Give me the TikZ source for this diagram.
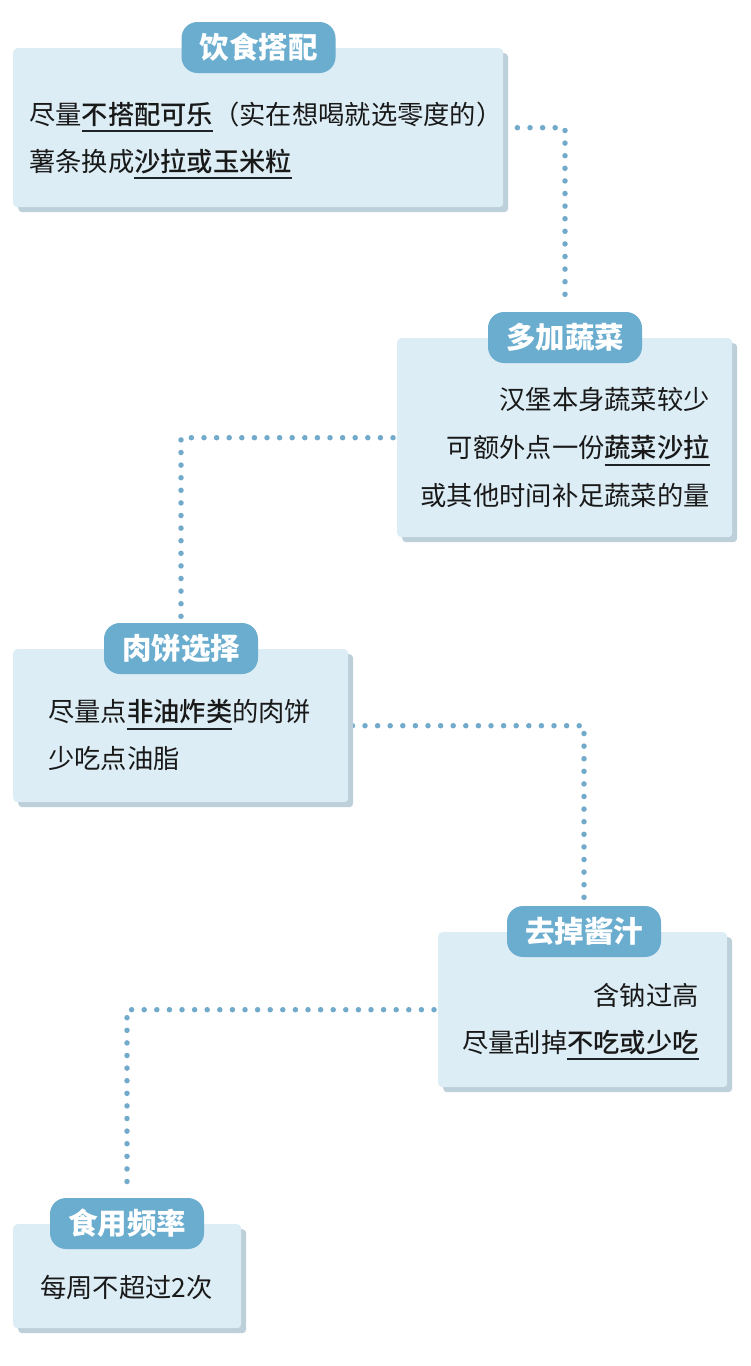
\documentclass[tikz,border=0pt]{standalone}
\usepackage{fontspec}
\setmainfont{Noto Sans CJK SC}
\newfontfamily\keyfont{Noto Sans CJK SC Medium}
\usetikzlibrary{shadows,backgrounds}

\definecolor{cardfill}{HTML}{DCEDF5}
\definecolor{cardshadow}{HTML}{BDD0DA}
\definecolor{tagfill}{HTML}{6AADCF}
\definecolor{dotc}{HTML}{72AACB}
\definecolor{ulc}{HTML}{1E2428}

\newcommand\hilite[1]{\setbox0=\hbox{\keyfont#1}\rlap{\color{ulc}\rule[-8pt]{\wd0}{2pt}}\box0}

\begin{document}
\begin{tikzpicture}[x=1pt,y=-1pt,
                card/.style = {fill=cardfill, rounded corners=4pt, anchor=north west, inner sep=0pt,
                               general shadow={fill=cardshadow, shadow xshift=5pt, shadow yshift=-5pt}},
                tag/.style = {fill=tagfill, rounded corners=16pt, minimum width=154pt, minimum height=51pt,
                              inner sep=0pt, text=white, font=\fontsize{29.5}{32}\selectfont\bfseries},
                body/.style = {inner sep=0pt, text=black!90, font=\fontsize{26.3}{47}\selectfont},
                dotline/.style = {draw=dotc, line width=5.5pt, line cap=round, dash pattern=on 0pt off 12.6pt}]
                \useasboundingbox (0,0) rectangle (750,1366);
                % cards
                \node[card, minimum width=490pt, minimum height=159pt] (box1) at (13,48) {};
                \node[card, minimum width=335pt, minimum height=199pt] (box2) at (397,338) {};
                \node[card, minimum width=335pt, minimum height=153pt] (box3) at (13,649) {};
                \node[card, minimum width=289pt, minimum height=155pt] (box4) at (438,932) {};
                \node[card, minimum width=228pt, minimum height=104pt] (box5) at (13,1224) {};
                % titles
                \node[tag] (tag1) at (258.5,47.5) {饮食搭配};
                \node[tag] (tag2) at (565,337.5) {多加蔬菜};
                \node[tag] (tag3) at (181,648.5) {肉饼选择};
                \node[tag] (tag4) at (584,931.5) {去掉酱汁};
                \node[tag] (tag5) at (127,1223.5) {食用频率};
                % texts
                \node[body, align=left, anchor=west] (txt1) at (29,140.5)
                    {尽量\hilite{不搭配可乐}（实在想喝就选零度的）\\薯条换成\hilite{沙拉或玉米粒}};
                \node[body, align=right, anchor=east, font=\fontsize{26.3}{48}\selectfont] (txt2) at (710,447.5)
                    {汉堡本身蔬菜较少\\可额外点一份\hilite{蔬菜沙拉}\\或其他时间补足蔬菜的量};
                \node[body, align=left, anchor=west] (txt3) at (48,735)
                    {尽量点\hilite{非油炸类}的肉饼\\少吃点油脂};
                \node[body, align=right, anchor=east] (txt4) at (699,1021.5)
                    {含钠过高\\尽量刮掉\hilite{不吃或少吃}};
                \node[body, anchor=west] (txt5) at (40,1287) {每周不超过2次};
                % connectors
                \begin{scope}[on background layer]
                    \draw[dotline] ([xshift=14pt]box1.east) -| ([yshift=6pt]tag2.north);
                    \draw[dotline] ([xshift=-4pt]box2.west) -| ([yshift=6pt]tag3.north);
                    \draw[dotline] ([xshift=4pt]box3.east) -| ([yshift=6pt]tag4.north);
                    \draw[dotline] ([xshift=-4pt]box4.west) -| ([yshift=6pt]tag5.north);
                \end{scope}
            \end{tikzpicture}
\end{document}
